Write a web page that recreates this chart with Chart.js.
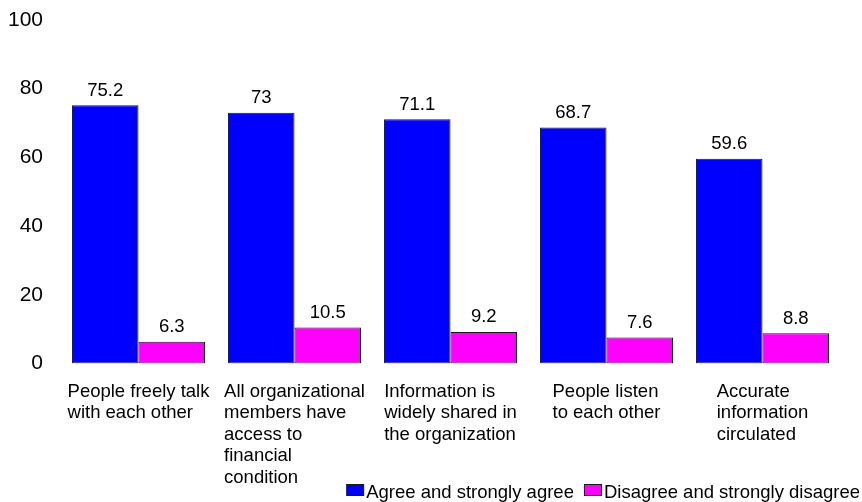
<!DOCTYPE html>
<html>
<head>
<meta charset="utf-8">
<script src="https://cdn.jsdelivr.net/npm/chart.js@4/dist/chart.umd.min.js"></script>
<style>
  html, body { margin: 0; padding: 0; background: #fff; }
  #wrap { width: 862px; height: 502px; position: relative; }
</style>
</head>
<body>
<div id="wrap"><canvas id="c" width="862" height="502"></canvas></div>
<script>
// Survey statements (wrapped into display lines)
const categories = [
  ["People freely talk", "with each other"],
  ["All organizational", "members have", "access to", "financial", "condition"],
  ["Information is", "widely shared in", "the organization"],
  ["People listen", "to each other"],
  ["Accurate", "information", "circulated"]
];
const seriesNames = ["Agree and strongly agree", "Disagree and strongly disagree"];
const agreeValues = [75.2, 73, 71.1, 68.7, 59.6];
const disagreeValues = [6.3, 10.5, 9.2, 7.6, 8.8];
const yTickValues = [0, 20, 40, 60, 80, 100];

const FONT = '"Liberation Sans", Arial, Helvetica, sans-serif';
const TEXT_SIZE = 18.5;
const colors = ["#0000FF", "#FF00FF"];
const edge = "#1a1a1a";

// Value labels above each bar
const valueLabels = {
  id: 'valueLabels',
  afterDatasetsDraw(chart) {
    const ctx = chart.ctx;
    ctx.save();
    ctx.font = `${TEXT_SIZE}px ${FONT}`;
    ctx.fillStyle = '#000';
    ctx.textAlign = 'center';
    ctx.textBaseline = 'alphabetic';
    chart.data.datasets.forEach((ds, di) => {
      chart.getDatasetMeta(di).data.forEach((bar, i) => {
        ctx.fillText(String(ds.data[i]), bar.x, bar.y - 9.5);
      });
    });
    ctx.restore();
  }
};

// Multi-line category labels: each block centred under its group, lines left-aligned
const categoryLabels = {
  id: 'categoryLabels',
  afterDraw(chart) {
    const ctx = chart.ctx;
    const xs = chart.scales.x;
    const base = chart.chartArea.bottom + 33;
    ctx.save();
    ctx.font = `${TEXT_SIZE}px ${FONT}`;
    ctx.fillStyle = '#000';
    ctx.textAlign = 'left';
    ctx.textBaseline = 'alphabetic';
    categories.forEach((lines, i) => {
      const cx = xs.getPixelForValue(i);
      const w = Math.max(...lines.map(l => ctx.measureText(l).width));
      const left = cx - w / 2;
      lines.forEach((l, k) => ctx.fillText(l, left, base + k * 21.5));
    });
    ctx.restore();
  }
};

// Legend in the lower right corner
const bottomLegend = {
  id: 'bottomLegend',
  afterDraw(chart) {
    const ctx = chart.ctx;
    ctx.save();
    ctx.font = `${TEXT_SIZE}px ${FONT}`;
    const boxW = 18, boxH = 12, boxGap = 2, itemGap = 10;
    const items = chart.data.datasets.map(ds => ({
      label: ds.label, color: ds.backgroundColor, w: ctx.measureText(ds.label).width
    }));
    const total = items.reduce((s, it) => s + boxW + boxGap + it.w, 0) + itemGap * (items.length - 1);
    let x = 860 - total;
    const boxTop = 484, baseline = 497.5;
    items.forEach(it => {
      ctx.fillStyle = it.color;
      ctx.fillRect(x + 0.5, boxTop + 0.5, boxW - 1, boxH - 1);
      ctx.strokeStyle = edge;
      ctx.lineWidth = 1;
      ctx.strokeRect(x + 0.5, boxTop + 0.5, boxW - 1, boxH - 1);
      x += boxW + boxGap;
      ctx.fillStyle = '#000';
      ctx.textAlign = 'left';
      ctx.textBaseline = 'alphabetic';
      ctx.fillText(it.label, x, baseline);
      x += it.w + itemGap;
    });
    ctx.restore();
  }
};

new Chart(document.getElementById('c'), {
  type: 'bar',
  data: {
    labels: categories.map((_, i) => i),
    datasets: [
      { label: seriesNames[0], data: agreeValues, backgroundColor: colors[0] },
      { label: seriesNames[1], data: disagreeValues, backgroundColor: colors[1] }
    ]
  },
  options: {
    responsive: false,
    animation: false,
    devicePixelRatio: 1,
    layout: { padding: { left: 8, right: 21.5, top: 20, bottom: 138.5 } },
    datasets: {
      bar: {
        categoryPercentage: 0.853,
        barPercentage: 1.0,
        borderColor: edge,
        borderWidth: 1,
        borderSkipped: false
      }
    },
    scales: {
      x: {
        type: 'category',
        offset: true,
        ticks: { display: false },
        grid: { display: false, drawTicks: false },
        border: { display: false }
      },
      y: {
        min: 0,
        max: 100,
        afterBuildTicks(scale) { scale.ticks = yTickValues.map(v => ({ value: v })); },
        afterFit(scale) {
          scale.width = 52.5;
          scale.paddingTop = 0;
          scale.paddingBottom = 0;
        },
        ticks: {
          padding: 17.5,
          color: '#000',
          font: { family: FONT, size: 21 }
        },
        grid: { display: false, drawTicks: false },
        border: { display: false }
      }
    },
    plugins: {
      legend: { display: false },
      tooltip: { enabled: false }
    }
  },
  plugins: [valueLabels, categoryLabels, bottomLegend]
});
</script>
</body>
</html>
